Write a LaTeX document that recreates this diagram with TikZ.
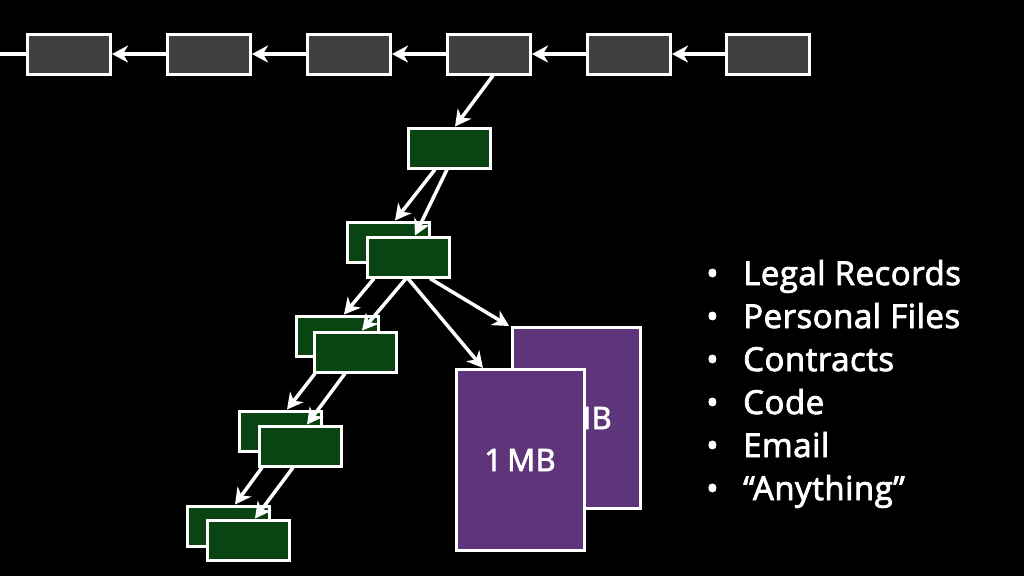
\documentclass[tikz,border=0pt]{standalone}
\usepackage{fontspec}
\setmainfont{Open Sans}
\newfontfamily\semibold{Open Sans}[FakeBold=2.5,LetterSpace=1.5]
\usetikzlibrary{arrows.meta}
\definecolor{blockgray}{HTML}{404042}
\definecolor{txgreen}{HTML}{0A4412}
\definecolor{docpurple}{HTML}{5E347A}
\begin{document}
\begin{tikzpicture}[x=1pt,y=-1pt,
  block/.style={draw=white,line width=3pt,fill=blockgray,minimum width=83pt,minimum height=40pt,inner sep=0pt},
  txbox/.style={draw=white,line width=3pt,fill=txgreen,minimum width=82pt,minimum height=40pt,inner sep=0pt},
  doc/.style={draw=white,line width=3pt,fill=docpurple,minimum width=128pt,minimum height=181pt,inner sep=0pt,text=white,font=\semibold\fontsize{31}{31}\selectfont},
  link/.style={draw=white,line width=3.5pt,-{Stealth[length=16pt,width=17pt,inset=5pt]}},
  item/.style={text=white,anchor=base west,inner sep=0pt,font=\semibold\fontsize{33}{33}\selectfont}]
\fill[black] (0,0) rectangle (1024,576);
\useasboundingbox (0,0) rectangle (1024,576);

% the main chain of blocks
\foreach \i/\x in {1/69,2/209,3/349,4/489,5/629,6/768}
  \node[block] (b\i) at (\x,54) {};
\coordinate (chainstart) at (0,54);
\draw[white,line width=3.5pt] (chainstart) -- (b1.west);
\foreach \i/\j in {2/1,3/2,4/3,5/4,6/5}
  \draw[link] (b\i.west) -- (b\j.east);

% side chain of transactions
\node[txbox] (t1) at (449,148) {};
\node[txbox] (t2b) at (388,242) {};
\node[txbox] (t2f) at (408,257) {};
\node[txbox] (t3b) at (337,336) {};
\node[txbox] (t3f) at (355,352) {};
\node[txbox] (t4b) at (280,431) {};
\node[txbox] (t4f) at (300,446) {};
\node[txbox] (t5b) at (228,526) {};
\node[txbox] (t5f) at (248,540) {};

% attached data documents
\node[doc] (d2) at (576,418) {1\,MB};
\node[doc] (d1) at (520,460) {1\,MB};

% connectors
\draw[link] ([xshift=4pt]b4.south) -- ([xshift=6pt]t1.north);
\draw[link] ([xshift=-14pt]t1.south) -- ([xshift=7pt]t2b.north);
\draw[link] ([xshift=-2pt]t1.south) -- ([xshift=7pt]t2f.north);
\draw[link] ([xshift=-34pt]t2f.south) -- ([xshift=7pt]t3b.north);
\draw[link] ([xshift=-2pt]t2f.south) -- ([xshift=7pt]t3f.north);
\draw[link] ([xshift=-40pt]t3f.south) -- ([xshift=7pt]t4b.north);
\draw[link] ([xshift=-10pt]t3f.south) -- ([xshift=7pt]t4f.north);
\draw[link] ([xshift=-38pt]t4f.south) -- ([xshift=7pt]t5b.north);
\draw[link] ([xshift=-7pt]t4f.south) -- ([xshift=7pt]t5f.north);
\draw[link] ([xshift=0pt]t2f.south) -- ([xshift=-37pt]d1.north);
\draw[link] ([xshift=22pt]t2f.south) -- ([xshift=-67pt]d2.north);

% list of data kinds
\foreach \n/\y/\t in {1/285/Legal Records,2/328/Personal Files,3/371/Contracts,4/414/Code,5/457/Email,6/500/“Anything”}
  \node[item] (l\n) at (706,\y) {\makebox[37pt][l]{•}\t};
\end{tikzpicture}
\end{document}
